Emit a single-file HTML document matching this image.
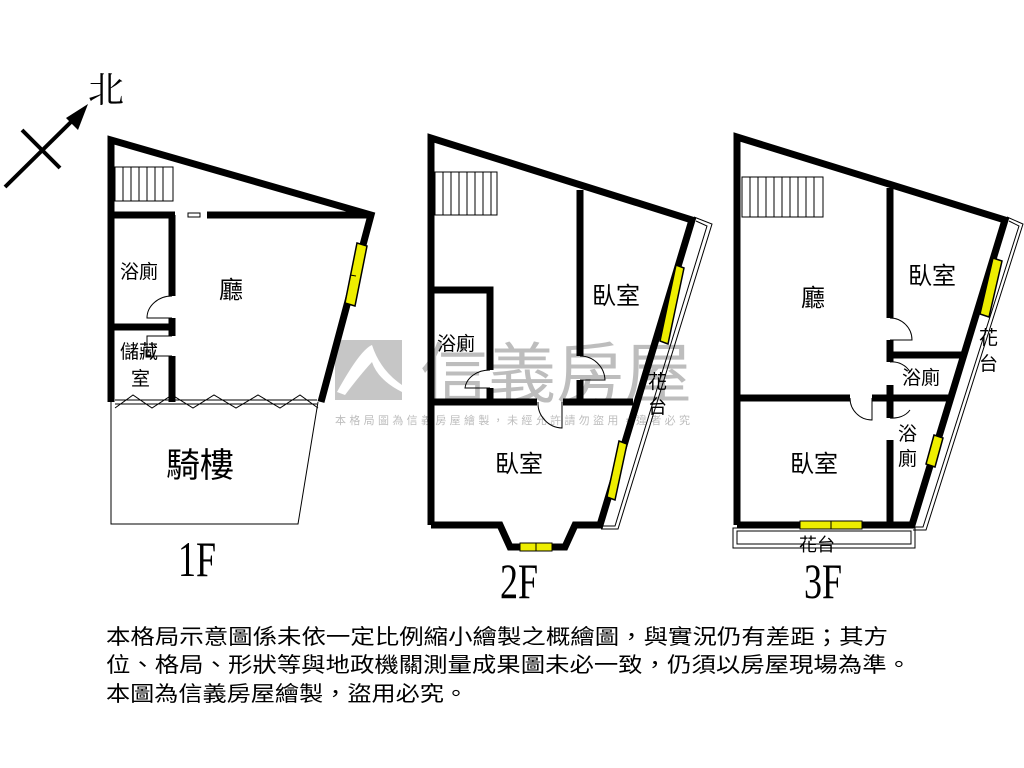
<!DOCTYPE html>
<html><head><meta charset="utf-8"><style>
html,body{margin:0;padding:0;background:#fff;}
svg{display:block;}
text{font-family:"Liberation Sans","Noto Sans CJK TC",sans-serif;}
.s{font-family:"Liberation Serif","Noto Serif CJK SC",serif;}
</style></head><body>
<svg width="1024" height="768" viewBox="0 0 1024 768" xmlns="http://www.w3.org/2000/svg">
<rect width="1024" height="768" fill="#fff"/>
<!-- watermark -->
<g opacity="0.55">
<rect x="335" y="340" width="67" height="60" fill="#999"/>
<path d="M337 392 Q360 350 372 345 Q380 370 402 385 L402 392 Q378 380 372 362 Q360 375 345 395 Z" fill="#fff"/>
<text x="420" y="397" font-size="66" fill="#888" textLength="272" lengthAdjust="spacingAndGlyphs">信義房屋</text>
<text x="335" y="424" font-size="11" fill="#888" textLength="355" lengthAdjust="spacing">本格局圖為信義房屋繪製，未經允許請勿盜用，違者必究</text>
</g>
<!-- compass -->
<g stroke="#000" stroke-width="4" fill="none">
<line x1="5" y1="187" x2="75" y2="118"/>
<line x1="22" y1="130" x2="60" y2="168"/>
</g>
<polygon points="88,104 66,118 78,130" fill="#000"/>
<text x="88" y="102" font-size="36" class="s">北</text>

<!-- 1F -->
<g stroke="#000" stroke-width="7" fill="none" stroke-linejoin="miter">
<polyline points="111,402 111,140 371,215 321,402"/>
<line x1="111" y1="215" x2="175" y2="215"/>
<line x1="207" y1="215" x2="371" y2="215"/>
<line x1="172" y1="215" x2="172" y2="296"/>
<line x1="172" y1="318" x2="172" y2="336"/>
<line x1="111" y1="327" x2="172" y2="327"/>
<line x1="172" y1="356" x2="172" y2="402"/>
</g>
<g stroke="#000" stroke-width="1" fill="none">
<rect x="115" y="167" width="58" height="34"/>
<path d="M123 167V201M131 167V201M139 167V201M147 167V201M155 167V201M163 167V201"/>
<rect x="188" y="213" width="12" height="4"/>
<line x1="115" y1="404" x2="317" y2="404"/><line x1="115" y1="400" x2="317" y2="400"/>
<polyline points="115,408 133,395 152,408 172,395 193,408 214,395 236,408 258,395 280,408 300,395 318,408"/>
<polyline points="111,402 111,524 298,524 318,402"/>
<path d="M172 296 A25 22 0 0 0 147 318 L172 318"/>
<path d="M172 336 L147 336 L147 356 L172 356"/>
</g>
<polygon points="357,243 367,246 355,306 345,303" fill="#ee0" stroke="#000" stroke-width="1.5"/>
<line x1="356" y1="276" x2="350" y2="275" stroke="#000"/>
<text x="120" y="278" font-size="19">浴廁</text>
<text x="120" y="358" font-size="19">儲藏</text>
<text x="131" y="385" font-size="19">室</text>
<text x="219" y="298" font-size="24">廳</text>
<text x="166" y="477" font-size="34">騎樓</text>
<text x="0" y="0" font-size="50" class="s" transform="translate(178,576) scale(0.72,1)">1F</text>

<!-- 2F -->
<g stroke="#000" stroke-width="7" fill="none">
<polyline points="431,525 431,138 692,220 600,525 575,525 565,547 510,547 500,525 431,525"/>
<line x1="580" y1="190" x2="580" y2="356"/>
<line x1="580" y1="380" x2="580" y2="402"/>
<line x1="431" y1="402" x2="537" y2="402"/>
<line x1="563" y1="402" x2="633" y2="402"/>
<polyline points="431,290 490,290 490,370"/>
<line x1="490" y1="388" x2="490" y2="402"/>
</g>
<g stroke="#000" stroke-width="1" fill="none">
<rect x="435" y="172" width="62" height="43"/>
<path d="M443 172V215M451 172V215M459 172V215M467 172V215M475 172V215M483 172V215M491 172V215"/>
<polyline points="694,217 712,224 618,529 601,529"/>
<polyline points="696,221 707,226 615,526 603,526"/>
<path d="M490 370 A25 20 0 0 0 465 388 L490 388"/>
<path d="M580 356 A25 25 0 0 1 605 380 L580 380"/>
<path d="M538 402 A25 25 0 0 0 562 428 L562 402"/>
</g>
<polygon points="676,265 684,268 668,344 660,341" fill="#ee0" stroke="#000" stroke-width="1.5"/>
<polygon points="619,441 627,444 615,500 607,497" fill="#ee0" stroke="#000" stroke-width="1.5"/>
<rect x="520" y="543" width="32" height="8" fill="#ee0" stroke="#000"/>
<line x1="536" y1="543" x2="536" y2="551" stroke="#000"/>
<text x="437" y="350" font-size="19">浴廁</text>
<text x="592" y="304" font-size="24">臥室</text>
<text x="495" y="472" font-size="24">臥室</text>
<text x="648" y="388" font-size="19">花</text>
<text x="648" y="413" font-size="19">台</text>
<text x="0" y="0" font-size="50" class="s" transform="translate(500,598) scale(0.72,1)">2F</text>

<!-- 3F -->
<g stroke="#000" stroke-width="7" fill="none">
<polyline points="737,525 737,137 1005,220 912,525 737,525"/>
<line x1="890" y1="188" x2="890" y2="318"/>
<line x1="890" y1="340" x2="890" y2="362"/>
<line x1="890" y1="385" x2="890" y2="418"/>
<line x1="890" y1="440" x2="890" y2="525"/>
<line x1="890" y1="355" x2="962" y2="355"/>
<line x1="737" y1="398" x2="850" y2="398"/>
<line x1="872" y1="398" x2="948" y2="398"/>
</g>
<g stroke="#000" stroke-width="1" fill="none">
<rect x="742" y="177" width="81" height="40"/>
<path d="M750 177V217M758 177V217M766 177V217M774 177V217M782 177V217M790 177V217M798 177V217M806 177V217M814 177V217"/>
<polyline points="1007,217 1023,224 926,530 913,530"/>
<polyline points="1009,221 1019,226 923,527 915,527"/>
<rect x="733" y="528" width="182" height="20"/>
<rect x="737" y="531" width="174" height="13"/>
<path d="M890 318 A22 22 0 0 1 912 340 L890 340"/>
<path d="M890 362 A20 18 0 0 1 910 372"/>
<path d="M890 418 A20 16 0 0 0 910 410"/>
<path d="M850 398 A22 22 0 0 0 872 420 L872 398"/>
</g>
<polygon points="993,258 1002,261 989,317 980,314" fill="#ee0" stroke="#000" stroke-width="1.5"/>
<polygon points="934,435 943,438 935,467 926,464" fill="#ee0" stroke="#000" stroke-width="1.5"/>
<rect x="800" y="521" width="62" height="8" fill="#ee0" stroke="#000"/>
<line x1="831" y1="521" x2="831" y2="529" stroke="#000"/>
<text x="801" y="306" font-size="24">廳</text>
<text x="908" y="284" font-size="24">臥室</text>
<text x="790" y="472" font-size="24">臥室</text>
<text x="902" y="384" font-size="19">浴廁</text>
<text x="898" y="440" font-size="19">浴</text>
<text x="898" y="465" font-size="19">廁</text>
<text x="979" y="344" font-size="19">花</text>
<text x="979" y="370" font-size="19">台</text>
<text x="799" y="551" font-size="18">花台</text>
<text x="0" y="0" font-size="50" class="s" transform="translate(804,598) scale(0.72,1)">3F</text>

<!-- footer -->
<text x="106" y="644" font-size="21" textLength="782" lengthAdjust="spacingAndGlyphs">本格局示意圖係未依一定比例縮小繪製之概繪圖，與實況仍有差距；其方</text>
<text x="106" y="672" font-size="21" textLength="805" lengthAdjust="spacingAndGlyphs">位、格局、形狀等與地政機關測量成果圖未必一致，仍須以房屋現場為準。</text>
<text x="106" y="701" font-size="21" textLength="362" lengthAdjust="spacingAndGlyphs">本圖為信義房屋繪製，盜用必究。</text>
</svg>
</body></html>
